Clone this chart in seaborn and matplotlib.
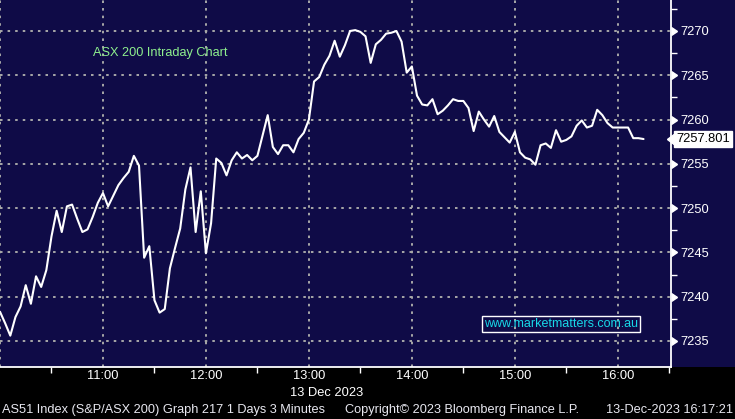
import pandas as pd
import matplotlib
matplotlib.use("Agg")
import matplotlib.pyplot as plt
import matplotlib.dates as mdates
import matplotlib.transforms as mtransforms
import seaborn as sns

# ASX 200 intraday, 3 minute bars from 10:00 on 13 Dec 2023
prices = [
    7238.3, 7237.0, 7235.6, 7237.7, 7238.9, 7241.3, 7239.2, 7242.3, 7241.1, 7243.0,
    7246.8, 7249.7, 7247.3, 7250.2, 7250.4, 7248.8, 7247.3, 7247.6, 7249.0, 7250.6,
    7251.7, 7250.2, 7251.4, 7252.6, 7253.4, 7254.1, 7255.9, 7254.8, 7244.4, 7245.7,
    7239.6, 7238.2, 7238.6, 7243.2, 7245.5, 7247.7, 7252.1, 7254.6, 7247.3, 7251.9,
    7244.9, 7248.3, 7255.6, 7255.1, 7253.7, 7255.4, 7256.3, 7255.6, 7256.0, 7255.4,
    7255.9, 7258.2, 7260.5, 7256.9, 7256.1, 7257.1, 7257.1, 7256.3, 7257.8, 7258.5,
    7260.0, 7264.3, 7264.8, 7266.2, 7267.2, 7268.9, 7267.1, 7268.4, 7270.0, 7270.1,
    7269.9, 7269.4, 7266.4, 7268.5, 7269.0, 7269.7, 7269.8, 7270.0, 7268.8, 7265.3,
    7266.0, 7262.7, 7261.7, 7261.6, 7262.3, 7260.6, 7261.0, 7261.6, 7262.3, 7262.1,
    7262.1, 7261.3, 7258.7, 7260.9, 7260.0, 7259.2, 7260.4, 7258.6, 7258.0, 7257.4,
    7258.6, 7256.3, 7255.7, 7255.5, 7254.9, 7257.1, 7257.3, 7256.8, 7258.8, 7257.5,
    7257.7, 7258.1, 7259.3, 7259.9, 7259.1, 7259.3, 7261.1, 7260.5, 7259.6, 7259.1,
    7259.1, 7259.1, 7259.1, 7257.9, 7257.9, 7257.801,
]
start_time = "2023-12-13 10:00"
end_time = "2023-12-13 16:31"
hour_ticks = ["10:00", "11:00", "12:00", "13:00", "14:00", "15:00", "16:00"]
hour_labels = ["", "11:00", "12:00", "13:00", "14:00", "15:00", "16:00"]
y_ticks = [7235, 7240, 7245, 7250, 7255, 7260, 7265, 7270]
last_label = "7257.801"

title_text = "ASX 200 Intraday Chart"
watermark = "www.marketmatters.com.au"
date_label = "13 Dec 2023"
footer_left = "AS51 Index (S&P/ASX 200) Graph 217 1 Days 3 Minutes"
footer_mid = "Copyright\u00a9 2023 Bloomberg Finance L.P."
footer_right = "13-Dec-2023 16:17:21"

times = pd.date_range(start_time, periods=len(prices), freq="3min")
df = pd.DataFrame({"time": times, "price": prices})

navy = "#0f0b47"
sns.set_style("dark")
plt.rcParams["font.family"] = ["Liberation Sans", "DejaVu Sans"]

fig = plt.figure(figsize=(7.35, 4.19), dpi=100, facecolor="black")
# navy band behind the plot and the price scale
fig.patches.append(plt.Rectangle((0, 1 - 367 / 419), 1, 367 / 419, transform=fig.transFigure,
                                 facecolor=navy, edgecolor="none", zorder=-10))
ax = fig.add_axes([0, 1 - 367 / 419, 671 / 735, 367 / 419])
ax.set_facecolor(navy)

sns.lineplot(data=df, x="time", y="price", color="white", linewidth=1.5, ax=ax, zorder=3)

ax.set_xlim(pd.Timestamp(start_time), pd.Timestamp(end_time))
ax.set_ylim(7232.06, 7273.5)
ax.set_xlabel("")
ax.set_ylabel("")

ax.set_xticks([pd.Timestamp("2023-12-13 " + h) for h in hour_ticks])
ax.set_xticklabels(hour_labels)
ax.xaxis.set_minor_locator(mdates.MinuteLocator(byminute=[30]))
ax.set_yticks(y_ticks)
ax.set_yticks([v + 2.5 for v in y_ticks], minor=True)

ax.grid(which="major", color="#a8a8a8", linestyle=(0, (1.3, 2.6)), linewidth=1.4)
ax.grid(which="minor", visible=False)

for side in ["top", "left"]:
    ax.spines[side].set_visible(False)
for side in ["right", "bottom"]:
    ax.spines[side].set_visible(True)
    ax.spines[side].set_color("white")
    ax.spines[side].set_linewidth(1.3)

ax.yaxis.tick_right()
ax.tick_params(axis="y", which="major", length=0, pad=7, colors="white", labelsize=9.3)
ax.tick_params(axis="y", which="minor", right=True, length=4, width=1, color="white")
ax.tick_params(axis="x", which="major", length=0, pad=2.5, colors="white", labelsize=9.3)
ax.tick_params(axis="x", which="minor", bottom=True, length=4, width=1, color="white")

# small triangles at the major price ticks
ax.plot([1.0] * len(y_ticks), y_ticks, marker=9, linestyle="none", color="white",
        markersize=6, transform=ax.get_yaxis_transform(), clip_on=False)

# last price tag: white box with a pointer at the axis
tag_tr = mtransforms.offset_copy(ax.get_yaxis_transform(), fig=fig, x=5, y=0, units="dots")
ax.text(1.0, prices[-1], last_label, transform=tag_tr, ha="left", va="center",
        fontsize=9.3, color="black", clip_on=False,
        bbox=dict(boxstyle="square,pad=0.15", facecolor="white", edgecolor="white"))
ax.plot([1.0], [prices[-1]], marker=8, markersize=8, color="white", linestyle="none",
        transform=mtransforms.offset_copy(ax.get_yaxis_transform(), fig=fig, x=4, y=0, units="dots"),
        clip_on=False, zorder=5)

ax.text(93 / 671, 1 - 53 / 367, title_text, transform=ax.transAxes, color="#8ef08e",
        fontsize=9.2, ha="left", va="center")
ax.text(561 / 671, 1 - 324 / 367, watermark, transform=ax.transAxes, color="#18d8e8",
        fontsize=9.0, ha="center", va="center",
        bbox=dict(boxstyle="square,pad=0.15", facecolor="none", edgecolor="white", linewidth=1))

fig.text(327 / 735, 1 - 393 / 419, date_label, color="white", fontsize=9.3, ha="center", va="center")
fig.text(2 / 735, 1 - 410 / 419, footer_left, color="#e8e8f0", fontsize=9.2, ha="left", va="center")
fig.text(345 / 735, 1 - 410 / 419, footer_mid, color="#e8e8f0", fontsize=9.2, ha="left", va="center")
fig.text(733 / 735, 1 - 410 / 419, footer_right, color="#e8e8f0", fontsize=9.2, ha="right", va="center")

fig.savefig("out.png", dpi=100, facecolor="black")
